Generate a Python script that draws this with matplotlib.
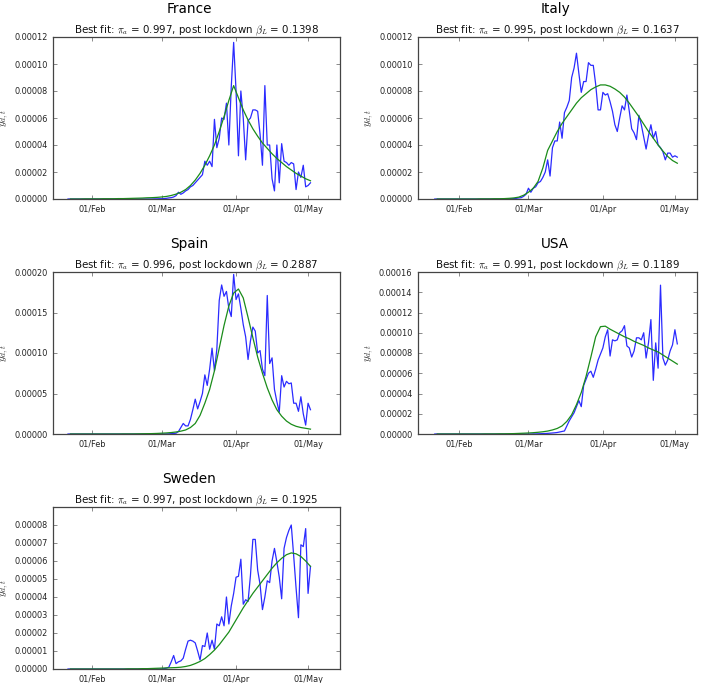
import numpy as np
import matplotlib
matplotlib.use("Agg")
import matplotlib.pyplot as plt
import matplotlib.dates as mdates
from matplotlib.ticker import FormatStrFormatter

plt.rcParams['font.family'] = ['DejaVu Sans']
plt.rcParams['mathtext.fontset'] = 'cm'

# daily observed values (units of 1e-5), 22 Jan .. 2 May 2020
obs_start = '2020-01-22'
# fitted curve, every 2nd day, 23 Jan .. 2 May 2020
fit_start = '2020-01-23'

france_obs = [
    0, 0, 0, 0, 0, 0, 0, 0, 0, 0,                                  # Jan 22-31
    0, 0, 0, 0, 0, 0, 0, 0, 0, 0, 0, 0, 0, 0, 0, 0, 0, 0, 0, 0,
    0, 0, 0, 0, 0, 0, 0.01, 0.01, 0.02,                             # Feb
    0.02, 0.03, 0.05, 0.08, 0.1, 0.15, 0.25, 0.5, 0.35, 0.45, 0.6, 0.7, 0.9, 1.0, 1.2, 1.4,
    1.6, 1.8, 2.8, 2.5, 2.8, 2.4, 5.9, 3.8, 4.5, 6.0, 5.9, 7.1, 4.0, 8.3, 11.6,   # Mar
    8.0, 3.2, 8.0, 6.0, 2.9, 5.8, 6.0, 6.6, 6.6, 6.5, 4.8, 2.5, 8.4, 4.0, 4.0,
    1.5, 0.6, 4.0, 1.2, 4.1, 2.8, 2.7, 2.5, 2.7, 2.6, 0.7, 2.0, 1.6, 2.5, 0.9,    # Apr
    1.0, 1.2,                                                       # May
]
france_fit = [
    0.0, 0.0, 0.0, 0.01, 0.01,
    0.01, 0.01, 0.02, 0.02, 0.02, 0.03, 0.03, 0.04, 0.05, 0.06, 0.07, 0.09, 0.10, 0.12,
    0.15, 0.19, 0.26, 0.36, 0.5, 0.7, 1.0, 1.4, 1.9, 2.5, 3.2, 4.0, 5.0, 6.1, 7.3, 8.4,
    7.5, 6.6, 5.85, 5.2, 4.65, 4.15, 3.75, 3.35, 3.0, 2.7, 2.4, 2.15, 1.9, 1.7, 1.5,
    1.35,
]

italy_obs = [
    0, 0, 0, 0, 0, 0, 0, 0, 0, 0,
    0, 0, 0, 0, 0, 0, 0, 0, 0, 0, 0, 0, 0, 0, 0, 0, 0, 0, 0, 0,
    0.01, 0.02, 0.02, 0.03, 0.05, 0.08, 0.1, 0.2, 0.35,
    0.8, 0.5, 0.8, 0.9, 1.2, 1.3, 1.6, 2.0, 2.9, 1.7, 3.8, 4.3, 4.3, 5.7, 4.5, 6.4,
    6.8, 7.3, 9.0, 9.7, 10.8, 9.3, 7.9, 8.7, 8.7, 10.1, 9.9, 9.9, 8.5, 6.6, 6.6,
    7.9, 7.7, 7.8, 7.2, 6.5, 5.5, 5.0, 6.0, 6.9, 6.6, 7.7, 6.5, 5.2, 4.9, 4.4,
    6.2, 5.5, 4.6, 3.7, 4.7, 5.5, 4.5, 5.0, 4.0, 3.8, 3.5, 2.9, 3.4, 3.4, 3.1,
    3.2, 3.1,
]
italy_fit = [
    0.0, 0.0, 0.0, 0.0, 0.0,
    0.0, 0.0, 0.0, 0.0, 0.01, 0.01, 0.01, 0.02, 0.02, 0.03, 0.05, 0.08, 0.14, 0.28,
    0.5, 0.8, 1.3, 2.3, 3.6, 4.3, 5.0, 5.6, 6.1, 6.6, 7.1, 7.5, 7.8, 8.1, 8.3, 8.45,
    8.45, 8.35, 8.15, 7.9, 7.55, 7.1, 6.6, 6.1, 5.55, 5.0, 4.5, 4.0, 3.55, 3.15, 2.85,
    2.65,
]

spain_obs = [
    0, 0, 0, 0, 0, 0, 0, 0, 0, 0,
    0, 0, 0, 0, 0, 0, 0, 0, 0, 0, 0, 0, 0, 0, 0, 0, 0, 0, 0, 0,
    0, 0, 0, 0, 0, 0, 0, 0, 0,
    0.0, 0.0, 0.01, 0.02, 0.04, 0.07, 0.1, 0.3, 0.8, 1.3, 1.0, 1.0, 1.8, 3.0, 4.3, 3.1,
    4.0, 5.0, 7.3, 6.0, 8.0, 10.6, 7.8, 10.5, 16.5, 18.4, 17.0, 17.6, 15.5, 14.5, 19.7,
    16.6, 17.3, 15.5, 13.5, 12.0, 9.2, 11.5, 13.2, 12.7, 10.0, 10.3, 8.0, 7.2, 17.1, 8.7,
    9.4, 5.5, 4.0, 2.7, 7.2, 5.8, 6.5, 6.2, 6.3, 3.8, 3.8, 2.8, 4.6, 2.5, 1.1,
    3.8, 3.0,
]
spain_fit = [
    0.0, 0.0, 0.0, 0.0, 0.0,
    0.0, 0.0, 0.0, 0.0, 0.0, 0.0, 0.01, 0.01, 0.01, 0.02, 0.03, 0.04, 0.05, 0.07,
    0.1, 0.13, 0.18, 0.25, 0.35, 0.5, 0.8, 1.3, 2.3, 3.8, 5.5, 7.8, 10.6, 13.4, 15.8, 17.4,
    17.9, 16.8, 14.4, 11.9, 9.5, 7.5, 5.7, 4.2, 3.0, 2.2, 1.6, 1.2, 0.95, 0.8, 0.7,
    0.6,
]

usa_obs = [
    0, 0, 0, 0, 0, 0, 0, 0, 0, 0,
    0, 0, 0, 0, 0, 0, 0, 0, 0, 0, 0, 0, 0, 0, 0, 0, 0, 0, 0, 0,
    0, 0, 0, 0, 0, 0, 0, 0, 0,
    0.0, 0.0, 0.01, 0.01, 0.02, 0.03, 0.04, 0.05, 0.06, 0.08, 0.1, 0.12, 0.15, 0.2, 0.25, 0.3,
    0.8, 1.3, 1.7, 2.1, 2.7, 3.3, 2.7, 4.8, 5.4, 6.0, 6.2, 5.6, 6.4, 7.3, 7.9,
    8.5, 9.6, 10.3, 7.7, 9.3, 9.2, 9.3, 10.0, 10.2, 10.7, 8.7, 8.5, 7.6, 8.2, 9.5,
    9.5, 9.3, 10.0, 7.5, 9.0, 11.3, 5.3, 9.0, 6.5, 14.7, 7.5, 6.8, 7.3, 8.2, 8.8,
    10.3, 8.9,
]
usa_fit = [
    0.0, 0.0, 0.0, 0.0, 0.0,
    0.0, 0.0, 0.0, 0.0, 0.0, 0.01, 0.01, 0.01, 0.02, 0.02, 0.03, 0.04, 0.06, 0.08,
    0.1, 0.13, 0.17, 0.22, 0.29, 0.4, 0.55, 0.8, 1.25, 1.9, 2.9, 4.1, 5.7, 7.6, 9.6, 10.6,
    10.65, 10.35, 10.1, 9.85, 9.6, 9.4, 9.15, 8.95, 8.75, 8.5, 8.3, 8.1, 7.8, 7.5, 7.2,
    6.9,
]

sweden_obs = [
    0, 0, 0, 0, 0, 0, 0, 0, 0, 0,
    0, 0, 0, 0, 0, 0, 0, 0, 0, 0, 0, 0, 0, 0, 0, 0, 0, 0, 0, 0,
    0, 0, 0, 0, 0, 0, 0, 0, 0,
    0.0, 0.02, 0.05, 0.1, 0.4, 0.75, 0.3, 0.4, 0.45, 0.6, 1.1, 1.55, 1.6, 1.55, 1.45, 1.0,
    0.5, 1.3, 1.25, 2.0, 1.1, 1.6, 1.1, 2.5, 2.4, 2.9, 2.4, 4.0, 2.5, 3.5, 4.2,
    5.1, 5.15, 6.1, 3.6, 3.85, 3.75, 5.2, 7.2, 7.2, 5.5, 4.7, 3.3, 4.0, 4.9, 4.8,
    6.0, 6.7, 5.95, 5.1, 3.9, 6.7, 7.3, 7.7, 8.0, 6.3, 4.5, 2.85, 6.9, 6.8, 7.8,
    4.2, 5.7,
]
sweden_fit = [
    0.0, 0.0, 0.0, 0.0, 0.0,
    0.0, 0.0, 0.0, 0.0, 0.0, 0.0, 0.0, 0.01, 0.01, 0.01, 0.02, 0.02, 0.03, 0.04,
    0.05, 0.06, 0.07, 0.08, 0.1, 0.14, 0.2, 0.3, 0.42, 0.58, 0.8, 1.05, 1.35, 1.7, 2.05, 2.5,
    2.95, 3.4, 3.8, 4.2, 4.55, 4.9, 5.25, 5.6, 5.9, 6.15, 6.35, 6.45, 6.4, 6.25, 6.0,
    5.7,
]

countries = ['France', 'Italy', 'Spain', 'USA', 'Sweden']
pi_a = ['0.997', '0.995', '0.996', '0.991', '0.997']
beta_L = ['0.1398', '0.1637', '0.2887', '0.1189', '0.1925']
obs = [france_obs, italy_obs, spain_obs, usa_obs, sweden_obs]
fits = [france_fit, italy_fit, spain_fit, usa_fit, sweden_fit]
ymax = [12, 12, 20, 16, 9]
ytop = [12, 12, 20, 16, 8]
ystep = [2, 2, 5, 2, 1]

W, H = 709, 683
fig = plt.figure(figsize=(W / 100, H / 100), dpi=100)

# axes boxes in pixels
col_x = [(53, 340), (418, 697)]
row_y = [(37, 199), (272, 434), (507, 669)]
title_x = [189, 555]
feb1 = mdates.date2num(np.datetime64('2020-02-01'))
may1 = mdates.date2num(np.datetime64('2020-05-01'))
col_xlim = [(feb1 - 16.25, may1 + 13.3), (feb1 - 17.0, may1 + 9.2)]
ticks = [mdates.date2num(np.datetime64(d)) for d in
         ['2020-02-01', '2020-03-01', '2020-04-01', '2020-05-01']]

for i, name in enumerate(countries):
    r, c = divmod(i, 2)
    x0, x1 = col_x[c]
    y0, y1 = row_y[r]
    ax = fig.add_axes([x0 / W, 1 - y1 / H, (x1 - x0) / W, (y1 - y0) / H])

    o = np.array(obs[i]) * 1e-5
    f = np.array(fits[i]) * 1e-5
    od = np.datetime64(obs_start) + np.arange(len(o))
    fd = np.datetime64(fit_start) + 2 * np.arange(len(f))
    ax.plot(mdates.date2num(od), o, color='#2b2bff', lw=0.9)
    ax.plot(mdates.date2num(fd), f, color='#1a8c1a', lw=0.9)

    ax.set_xlim(*col_xlim[c])
    ax.set_ylim(0, ymax[i] * 1e-5)
    ax.set_xticks(ticks)
    ax.xaxis.set_major_formatter(mdates.DateFormatter('%d/%b'))
    ax.set_yticks(np.arange(0, ytop[i] + 1, ystep[i]) * 1e-5)
    ax.yaxis.set_major_formatter(FormatStrFormatter('%.5f'))
    ax.tick_params(direction='in', top=True, right=True, length=3, width=0.6,
                   color='#777777', labelsize=5.9, labelcolor='#222222', pad=4)
    for s in ax.spines.values():
        s.set_color('#444444')
        s.set_linewidth(0.9)

    ax.set_ylabel(r'$y_{d,t}$', fontsize=8, color='#333333', labelpad=2)
    ax.set_title(r'Best fit: $\pi_a$ = %s, post lockdown $\beta_L$ = %s' % (pi_a[i], beta_L[i]),
                 fontsize=7.35, pad=2.5, color='#111111')
    fig.text(title_x[c] / W, 1 - (y0 - 24) / H, name, ha='center', va='baseline',
             fontsize=9.8)

fig.savefig('out.png', dpi=100, facecolor='white')
